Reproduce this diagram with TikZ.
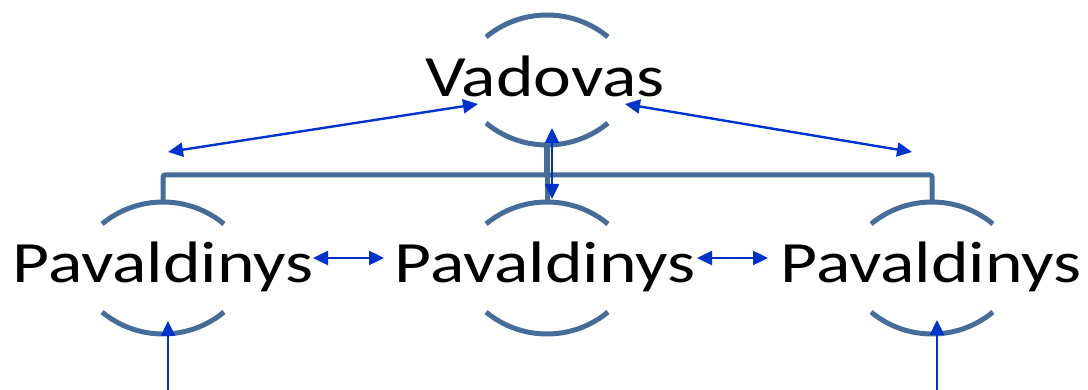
\documentclass[tikz,border=0pt]{standalone}
\usepackage{fontspec}
\newfontfamily\lblfont[FakeStretch=1.225]{Carlito}
\usetikzlibrary{arrows.meta}
\definecolor{arcblue}{RGB}{70,108,152}
\definecolor{arrblue}{RGB}{0,51,204}
\begin{document}
\begin{tikzpicture}[x=1pt,y=-1pt,
  lbl/.style={anchor=base,inner sep=0pt,font=\lblfont\fontsize{58.5}{60}\selectfont,text=black},
  ring/.style={draw=arcblue,line width=5pt},
  conn/.style={draw=arcblue,line width=5pt},
  rel/.style={draw=arrblue,line width=2.4pt,{Triangle[length=15pt,width=14pt]}-{Triangle[length=15pt,width=14pt]}},
  uparr/.style={draw=arrblue,line width=2.4pt,-{Triangle[length=15pt,width=14pt]}}]
\useasboundingbox (0,0) rectangle (1088,390);
% text nodes
\node[lbl] (vad) at (545,97) {Vadovas};
\node[lbl] (p1) at (163,283) {Pavaldinys};
\node[lbl] (p2) at (545,283) {Pavaldinys};
\node[lbl] (p3) at (931,283) {Pavaldinys};
% arc tops and bottoms
\coordinate (vt) at (547,15);
\coordinate (vb) at (547,145);
\coordinate (p1t) at (163,202);
\coordinate (p1b) at (163,334);
\coordinate (p2t) at (547,202);
\coordinate (p2b) at (547,334);
\coordinate (p3t) at (932,202);
\coordinate (p3b) at (932,334);
% arcs
\foreach \c in {vt,p1t,p2t,p3t}{
  \draw[ring] (\c) ++(0,95.6) ++(230.4:95.6) arc[start angle=230.4,end angle=309.6,radius=95.6];
}
\foreach \c in {vb,p1b,p2b,p3b}{
  \draw[ring] (\c) ++(0,-95.6) ++(50.4:95.6) arc[start angle=50.4,end angle=129.6,radius=95.6];
}
% organisational connectors
\coordinate (hl) at (163,175);
\coordinate (hm) at (547,175);
\coordinate (hr) at (932,175);
\draw[conn,line width=6pt] (vb) -- (hm);
\draw[conn,rounded corners=2pt] (p1t) -- (hl) -- (hr) -- (p3t);
\draw[conn] (hm) -- (p2t);
% relation arrows
\coordinate (a1) at (168,152);
\coordinate (a2) at (478,104);
\coordinate (a3) at (625,104);
\coordinate (a4) at (912,152);
\coordinate (m1) at (552,128);
\coordinate (m2) at (552,199);
\coordinate (h1) at (313,258);
\coordinate (h2) at (384,258);
\coordinate (h3) at (697,258);
\coordinate (h4) at (768,258);
\coordinate (b1) at (168,390);
\coordinate (b1t) at (168,321);
\coordinate (b3) at (937,390);
\coordinate (b3t) at (937,320);
\draw[rel] (a1) -- (a2);
\draw[rel] (a3) -- (a4);
\draw[rel] (m1) -- (m2);
\draw[rel] (h1) -- (h2);
\draw[rel] (h3) -- (h4);
\draw[uparr] (b1) -- (b1t);
\draw[uparr] (b3) -- (b3t);
\end{tikzpicture}
\end{document}
